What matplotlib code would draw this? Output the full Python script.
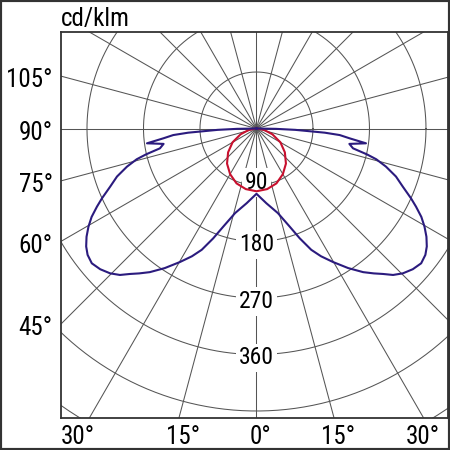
import numpy as np
import matplotlib
matplotlib.use('Agg')
import matplotlib.pyplot as plt
from matplotlib import font_manager
from matplotlib.patches import Rectangle

# light distribution, cd/klm, C0/C180 plane (blue) and C90/C270 plane (red)
gamma_red = [0, 10, 20, 30, 40, 50, 60, 70, 80, 90]
i_red = [100, 98, 93, 84, 73, 59, 44, 27, 12, 0]

gamma_blue = [0, 7.5, 14.2, 18.7, 21.5, 24.3, 26.8, 29.8, 33.3, 36.6, 39, 41, 43, 45.3, 48, 50.7,
              53.2, 55.3, 57.5, 59.7, 61.8, 63.9, 65.7, 68.3, 71, 73.6, 75.6, 76.8,
              78.4, 80.6, 82.3, 84, 85.5, 86.5, 88, 89, 90]
i_blue = [104, 120, 139, 165, 188, 212, 228, 245, 266, 285, 297, 307, 319, 328, 335, 339,
          336, 330, 321, 310, 298, 283, 270, 251, 235, 215, 197, 181,
          157, 150, 176, 149, 133, 109, 62, 31, 0]

rings = [90, 180, 270, 360, 450, 540, 630]
ring_labels = [90, 180, 270, 360]
side_angles = [105, 90, 75, 60, 45]
bottom_angles = [-30, -15, 0, 15, 30]
unit = 'cd/klm'

names = {f.name for f in font_manager.fontManager.ttflist}
family = next(n for n in ['Roboto Condensed', 'Liberation Sans Narrow', 'Roboto', 'DejaVu Sans'] if n in names)
plt.rcParams['font.family'] = family

GRID = '#555555'
BLUE = '#2b1b7e'
RED = '#c8102e'


def mirror(g, v):  # make the curve symmetric about 0 deg
    g = np.asarray(g, float)
    v = np.asarray(v, float)
    return np.concatenate([-g[::-1], g[1:]]), np.concatenate([v[::-1], v[1:]])


def to_xy(g, v):
    r = np.radians(g)
    return v * np.sin(r), -v * np.cos(r)


fig = plt.figure(figsize=(4.5, 4.5), dpi=100)
ax = fig.add_axes([61 / 450, 1 - 418.3 / 450, 386.7 / 450, 386.8 / 450])
x0, x1 = -311.4, 304.6
y0, y1 = -461.6, 154.5
ax.set_xlim(x0, x1)
ax.set_ylim(y0, y1)
ax.set_aspect('equal', adjustable='box')
ax.set_xticks([])
ax.set_yticks([])
for s in ax.spines.values():
    s.set_color('#333333')
    s.set_linewidth(1.3)

# grid
t = np.linspace(0, 2 * np.pi, 400)
for r in rings:
    ax.plot(r * np.cos(t), r * np.sin(t), color=GRID, lw=0.75, zorder=1)
for a in range(0, 360, 15):
    ar = np.radians(a)
    ax.plot([0, 1000 * np.sin(ar)], [0, -1000 * np.cos(ar)], color=GRID, lw=0.75, zorder=1)

for r in ring_labels:
    dy = 2 if r == ring_labels[0] else -2.5
    ax.annotate(str(r), (0, -r), xytext=(0, dy), textcoords='offset points',
                ha='center', va='center', fontsize=17, zorder=3,
                bbox=dict(boxstyle='square,pad=0.12', fc='white', ec='none'))

# curves
gb, vb = mirror(gamma_blue, i_blue)
xb, yb = to_xy(gb, vb)
ax.plot(xb, yb, color=BLUE, lw=1.5, zorder=5, solid_joinstyle='round')
gr, vr = mirror(gamma_red, i_red)
xr, yr = to_xy(gr, vr)
ax.plot(xr, yr, color=RED, lw=1.5, zorder=4, solid_joinstyle='round')

# angle labels on the left edge
for a in side_angles:
    y = x0 / np.tan(np.radians(a))
    ax.annotate(f'{a}°', (x0, y), xytext=(-6, -3), textcoords='offset points',
                ha='right', va='center', fontsize=18, annotation_clip=False)

# angle labels on the bottom edge
for a in bottom_angles:
    x = -y0 * np.tan(np.radians(a))
    ha, dx = 'center', 3
    if a == bottom_angles[0]:
        x, ha, dx = x0, 'left', 0
    elif a == bottom_angles[-1]:
        dx = -1
    ax.annotate(f'{abs(a)}°', (x, y0), xytext=(dx, -4.5), textcoords='offset points',
                ha=ha, va='top', fontsize=18, annotation_clip=False)

fig.text(61 / 450, 1 - 7 / 450, unit, ha='left', va='top', fontsize=18)

fig.patches.append(Rectangle((0, 0), 1, 1, transform=fig.transFigure, fill=False,
                             ec='#333333', lw=3))

fig.savefig('out.png', dpi=100)
